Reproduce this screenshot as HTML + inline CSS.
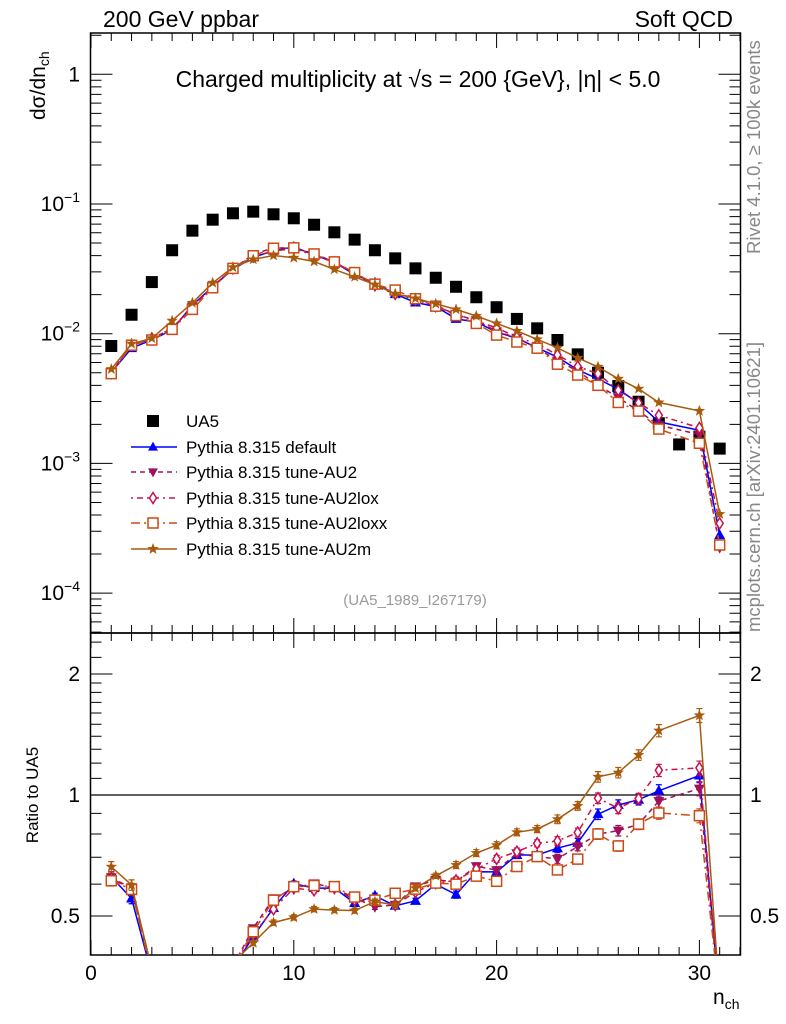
<!DOCTYPE html>
<html><head><meta charset="utf-8"><style>
html,body{margin:0;background:#fff;overflow:hidden;width:786px;height:1024px;}
svg{display:block;font-family:"Liberation Sans",sans-serif;}
</style></head><body>
<svg id="c" width="786" height="1024" viewBox="0 0 786 1024">
<defs>
<clipPath id="clipTop"><rect x="90.5" y="33" width="650" height="600"/></clipPath>
<clipPath id="clipRat"><rect x="90.5" y="633" width="650" height="322"/></clipPath>
</defs>
<g id="axes"></g>
<g id="marks"></g>
<text x="103" y="27" font-size="23">200 GeV ppbar</text>
<text x="733" y="27" font-size="23" text-anchor="end">Soft QCD</text>
<text x="418" y="87" font-size="23" text-anchor="middle">Charged multiplicity at √s = 200 {GeV}, |η| &lt; 5.0</text>
<text transform="translate(45,120) rotate(-90)" font-size="21">dσ/dn<tspan font-size="14" dy="4">ch</tspan></text>
<text transform="translate(38,795) rotate(-90)" font-size="17" text-anchor="middle">Ratio to UA5</text>
<text x="713" y="1004" font-size="21">n<tspan font-size="14" dy="5">ch</tspan></text>
<text transform="translate(760,254) rotate(-90)" font-size="18.5" fill="#888">Rivet 4.1.0, ≥ 100k events</text>
<text transform="translate(760,632) rotate(-90)" font-size="18.5" fill="#888">mcplots.cern.ch [arXiv:2401.10621]</text>
<text x="415" y="605" font-size="15" fill="#999" text-anchor="middle">(UA5_1989_I267179)</text>
<g id="legend"></g>
</svg>
<script>
const nch = [1,2,3,4,5,6,7,8,9,10,11,12,13,14,15,16,17,18,19,20,21,22,23,24,25,26,27,28,29,30,31];
const ua5 = [0.00804,0.0140,0.0250,0.0440,0.0623,0.0757,0.0848,0.0873,0.0833,0.0776,0.0692,0.0605,0.0531,0.0440,0.0381,0.0319,0.0270,0.0230,0.0191,0.0160,0.0130,0.0110,0.00894,0.00693,0.00500,0.00395,0.00299,0.00204,0.00140,0.00161,0.00130];
const pyDefault = [0.00503,0.00774,0.00894,0.0107,0.0166,0.0230,0.0314,0.0388,0.0436,0.0467,0.0406,0.0355,0.0286,0.0247,0.0202,0.0174,0.0162,0.0130,0.0123,0.0103,0.00922,0.00780,0.00659,0.00527,0.00448,0.00373,0.00291,0.00209,null,0.00180,0.00028];
const pyAU2 = [0.00502,0.00819,0.0091,0.0110,0.0162,0.0231,0.0318,0.0407,0.0461,0.0455,0.0417,0.0355,0.0294,0.0232,0.0203,0.0189,0.0166,0.0140,0.0127,0.0104,0.00931,0.00773,0.00620,0.00516,0.00400,0.00322,0.00253,0.00197,null,0.00167,0.000224];
const pyAU2lox = [0.00498,0.00819,0.0092,0.0110,0.0160,0.0232,0.0318,0.0393,0.0433,0.0455,0.0401,0.0355,0.0291,0.0239,0.0203,0.0183,0.0163,0.0141,0.0125,0.0111,0.00940,0.00834,0.00687,0.00559,0.00491,0.00366,0.00293,0.00235,null,0.00188,0.000345];
const pyAU2loxx = [0.00492,0.00815,0.00894,0.0108,0.0154,0.0226,0.0319,0.0399,0.0456,0.0459,0.0412,0.0358,0.0296,0.0241,0.0217,0.0186,0.0163,0.0138,0.0120,0.00976,0.00863,0.00773,0.00582,0.00480,0.00400,0.00295,0.00253,0.00184,null,0.00143,0.000235];
const pyAU2m = [0.00533,0.00836,0.00922,0.0126,0.0173,0.0247,0.0325,0.0374,0.0401,0.0385,0.0360,0.0313,0.0274,0.0239,0.0203,0.0187,0.0170,0.0154,0.0137,0.0120,0.0105,0.00905,0.00778,0.00651,0.00555,0.00449,0.00376,0.00295,null,0.00254,0.000407];
const relErr = [0.03,0.03,0.02,0.02,0.02,0.015,0.015,0.015,0.015,0.015,0.015,0.015,0.015,0.015,0.015,0.015,0.015,0.02,0.02,0.02,0.02,0.02,0.025,0.025,0.03,0.03,0.03,0.035,0.04,0.04,0.05];
const xTicks = [0,10,20,30];
const ratioTicks = [0.5,1,2];
const decadeTicks = [0,-1,-2,-3,-4];

const NS="http://www.w3.org/2000/svg";
const X0=91, XS=20.28, L=90.5, R=740.5, T=33, M=633, B=955;
const x = n => X0 + XS*n;
const yT = v => 74.3 - 129.7*Math.log10(v);
const yR = r => 795 - 402*Math.log10(r);
function mk(tag, attrs, parent){const e=document.createElementNS(NS,tag);for(const k in attrs)e.setAttribute(k,attrs[k]);parent.appendChild(e);return e;}
const ax=document.getElementById('axes'), mg=document.getElementById('marks'), lg=document.getElementById('legend');

let f1=mk('rect',{x:L,y:T,width:R-L,height:M-T,fill:'none',stroke:'#000','stroke-width':1.5},ax);


let f2=mk('rect',{x:L,y:M,width:R-L,height:B-M,fill:'none',stroke:'#000','stroke-width':1.5},ax);



let tp='';
for(let n=0;n<=32;n++){
  const xx=x(n); if(xx>R) break;
  const len = n%10===0?15:8;
  tp+=`M${xx} ${T}v${len}M${xx} ${M}v${-len}M${xx} ${M}v${len}M${xx} ${B}v${-len}`;
}
let xt=mk('path',{d:tp,stroke:'#000','stroke-width':1},ax);


xTicks.forEach(t=>{
  const e=mk('text',{x:x(t),y:980,'font-size':21,'text-anchor':'middle'},ax);
  e.textContent=t;
  
  
});

let yp='';
for(let d=-5;d<=1;d++){
  for(let m=1;m<10;m++){
    const v=m*Math.pow(10,d); const yy=yT(v);
    if(yy<T||yy>M) continue;
    const len=m===1?22:11;
    yp+=`M${L} ${yy}h${len}M${R} ${yy}h${-len}`;
  }
}
let yt=mk('path',{d:yp,stroke:'#000','stroke-width':1},ax);


decadeTicks.forEach(d=>{
  const yy=yT(Math.pow(10,d));
  const e=mk('text',{x:80,y:yy+7,'font-size':21,'text-anchor':'end'},ax);
  if(d===0){e.textContent='1';}
  else{
    e.textContent='10';
    const s=mk('tspan',{'font-size':14,dy:-9},e); s.textContent=(d<0?'\u2212':'')+Math.abs(d);
  }
  
  
});

let rp='';
[0.4,0.5,0.6,0.7,0.8,0.9,1,2].forEach(r=>{
  const yy=yR(r); if(yy<M||yy>B) return;
  const major=(r===0.5||r===1||r===2);
  const len=major?22:11;
  rp+=`M${L} ${yy}h${len}M${R} ${yy}h${-len}`;
});
[1.1,1.2,1.3,1.4,1.5,1.6,1.7,1.8,1.9,2.2,2.4].forEach(r=>{
  const yy=yR(r); if(yy<M||yy>B) return;
  rp+=`M${L} ${yy}h11M${R} ${yy}h-11`;
});
let rt=mk('path',{d:rp,stroke:'#000','stroke-width':1},ax);


ratioTicks.forEach(r=>{
  const yy=yR(r);
  const a=mk('text',{x:80,y:yy+7,'font-size':21,'text-anchor':'end'},ax); a.textContent=r;
  
  
  const b=mk('text',{x:750,y:yy+7,'font-size':21},ax); b.textContent=r;
  
  
});
let one=mk('line',{x1:L,x2:R,y1:yR(1),y2:yR(1),stroke:'#000','stroke-width':1.2},ax);



function marker(type,cx,cy,col,parent,sz){
  sz=sz||1; let e;
  if(type==='sq'){e=mk('rect',{x:cx-6,y:cy-6,width:12,height:12,fill:'#000'},parent);}
  else if(type==='up'){e=mk('path',{d:`M${cx} ${cy-6*sz}L${cx+5.5*sz} ${cy+4*sz}L${cx-5.5*sz} ${cy+4*sz}Z`,fill:col},parent);}
  else if(type==='down'){e=mk('path',{d:`M${cx} ${cy+6*sz}L${cx+5.5*sz} ${cy-4*sz}L${cx-5.5*sz} ${cy-4*sz}Z`,fill:col},parent);}
  else if(type==='dia'){e=mk('path',{d:`M${cx} ${cy-5.5}L${cx+3.5} ${cy}L${cx} ${cy+5.5}L${cx-3.5} ${cy}Z`,fill:'#fff',stroke:col,'stroke-width':1.5},parent);}
  else if(type==='osq'){e=mk('rect',{x:cx-5,y:cy-5,width:10,height:10,fill:'#fff',stroke:col,'stroke-width':1.5},parent);}
  else if(type==='star'){
    let d='';for(let i=0;i<10;i++){const r=i%2?2.5:6;const a=-Math.PI/2+i*Math.PI/5;d+=(i?'L':'M')+(cx+r*Math.cos(a)).toFixed(1)+' '+(cy+r*Math.sin(a)).toFixed(1);}
    e=mk('path',{d:d+'Z',fill:col},parent);
  }
  return e;
}

const gData=mk('g',{'clip-path':'url(#clipTop)'},mg);


nch.forEach((n,i)=>{
  const e=marker('sq',x(n),yT(ua5[i]),'#000',gData);
  
  
});

const series=[
 {name:'Pythia 8.315 default',vals:pyDefault,col:'#0000ff',dash:'',mk:'up',key:'default'},
 {name:'Pythia 8.315 tune-AU2',vals:pyAU2,col:'#a0105a',dash:'5 4',mk:'down',key:'au2'},
 {name:'Pythia 8.315 tune-AU2lox',vals:pyAU2lox,col:'#c8104e',dash:'2 4 6 4',mk:'dia',key:'au2lox'},
 {name:'Pythia 8.315 tune-AU2loxx',vals:pyAU2loxx,col:'#cc4a14',dash:'9 4 2 4',mk:'osq',key:'au2loxx'},
 {name:'Pythia 8.315 tune-AU2m',vals:pyAU2m,col:'#a85a0c',dash:'',mk:'star',key:'au2m'}
];

series.forEach(s=>{
  const gt=mk('g',{'clip-path':'url(#clipTop)'},mg);
  
  
  const gr=mk('g',{'clip-path':'url(#clipRat)'},mg);
  
  
  let d1='',d2='';
  nch.forEach((n,i)=>{
    const v=s.vals[i]; if(v==null) return;
    const r=v/ua5[i];
    d1+=(d1?'L':'M')+x(n).toFixed(1)+' '+yT(v).toFixed(1);
    d2+=(d2?'L':'M')+x(n).toFixed(1)+' '+Math.min(yR(r),1000).toFixed(1);
  });
  const l1=mk('path',{d:d1,fill:'none',stroke:s.col,'stroke-width':1.5,'stroke-dasharray':s.dash},gt);
  
  
  const l2=mk('path',{d:d2,fill:'none',stroke:s.col,'stroke-width':1.5,'stroke-dasharray':s.dash},gr);
  
  
  nch.forEach((n,i)=>{
    const v=s.vals[i]; if(v==null) return;
    const r=v/ua5[i];
    const p=marker(s.mk,x(n),yT(v),s.col,gt);
    
    
    const yy=yR(r);
    if(yy>1000) return;
    const e=relErr[i]*r;
    const y1=yR(r+e), y2=yR(r-e), xx=x(n);
    const eb=mk('path',{d:`M${xx} ${y1}V${y2}M${xx-3} ${y1}h6M${xx-3} ${y2}h6`,stroke:s.col,'stroke-width':1.2,fill:'none'},gr);
    
    
    const q=marker(s.mk,xx,yy,s.col,gr);
    
    
  });
});

const LY=[421,447,472,498,523,549];
let le=marker('sq',153,LY[0],'#000',lg);


let lt=mk('text',{x:186,y:LY[0]+6,'font-size':17},lg); lt.textContent='UA5';


series.forEach((s,k)=>{
  const yy=LY[k+1];
  const ln=mk('line',{x1:131,x2:177,y1:yy,y2:yy,stroke:s.col,'stroke-width':1.5,'stroke-dasharray':s.dash},lg);
  
  
  const m=marker(s.mk,153,yy,s.col,lg,0.9);
  
  
  const t=mk('text',{x:186,y:yy+6,'font-size':17},lg); t.textContent=s.name;
  
  
});
</script>
</body></html>
